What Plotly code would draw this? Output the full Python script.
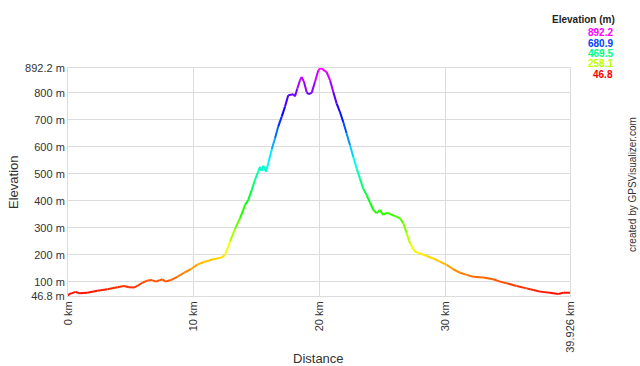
import colorsys
import plotly.graph_objects as go

# ---- data ----
distance_km = [0, 0.04, 0.61, 0.87, 1.53, 2.33, 3.13, 3.92, 4.45, 4.85, 5.25, 5.51, 5.91, 6.31,
               6.70, 6.97, 7.24, 7.50, 7.77, 8.17, 8.69, 9.23, 9.76, 10.28, 10.76, 11.56, 12.22,
               12.49, 12.88, 13.28, 13.68, 14.08, 14.34, 14.61, 14.87, 15.13, 15.27, 15.40, 15.53,
               15.75, 15.93, 16.20, 16.46, 16.72, 17.00, 17.26, 17.52, 17.92, 18.05, 18.24, 18.45,
               18.59, 18.77, 18.98, 19.11, 19.38, 19.64, 19.91, 20.10, 20.57, 20.84, 21.10, 21.37,
               21.63, 21.89, 22.16, 22.43, 22.69, 22.96, 23.22, 23.48, 23.76, 24.02, 24.28, 24.55,
               24.81, 25.07, 25.35, 25.61, 26.01, 26.40, 26.67, 26.94, 27.20, 27.60, 27.99, 28.53,
               29.05, 29.58, 30.12, 30.64, 31.18, 31.71, 32.23, 33.03, 33.82, 34.36, 34.89, 35.68,
               36.48, 37.01, 37.54, 38.33, 38.99, 39.39, 39.926]
elevation_m = [46.8, 53, 62, 57, 59, 66, 72, 79, 84, 79, 78, 84, 96, 104,
               106, 100, 104, 109, 100, 106, 118, 133, 146, 163, 172, 183, 190,
               199, 248, 295, 335, 384, 403, 440, 477, 508, 526, 510, 530,
               508, 539, 590, 631, 675, 712, 749, 791, 795, 787, 816, 847,
               859, 840, 803, 795, 800, 840, 884, 892.2, 877, 847, 803, 760,
               729, 692, 649, 606, 562, 519, 482, 445, 420, 393, 366, 353,
               366, 347, 356, 351, 343, 335, 316, 279, 242, 211, 205, 195,
               186, 174, 162, 146, 133, 125, 118, 115, 109, 100, 94, 84,
               75, 69, 63, 59, 54, 59, 59]
y_tick_values = [46.8, 100, 200, 300, 400, 500, 600, 700, 800, 892.2]
y_tick_labels = ["46.8 m", "100 m", "200 m", "300 m", "400 m", "500 m", "600 m", "700 m", "800 m", "892.2 m"]
x_tick_values = [0, 10, 20, 30, 39.926]
x_tick_labels = ["0 km", "10 km", "20 km", "30 km", "39.926 km"]
legend_values = [892.2, 680.9, 469.5, 258.1, 46.8]

E_MIN, E_MAX = 46.8, 892.2
FONT = "Liberation Sans, Arial, sans-serif"


def elev_color(e):
    f = max(0.0, min(1.0, (e - E_MIN) / (E_MAX - E_MIN)))
    r, g, b = colorsys.hsv_to_rgb(300.0 / 360.0 * f, 1.0, 1.0)
    return "rgb(%d,%d,%d)" % (round(r * 255), round(g * 255), round(b * 255))


fig = go.Figure()
for i in range(len(distance_km) - 1):
    seg_x = distance_km[i:i + 2]
    seg_y = elevation_m[i:i + 2]
    fig.add_trace(go.Scatter(
        x=seg_x, y=seg_y, mode="lines",
        line=dict(color=elev_color(sum(seg_y) / 2), width=2),
        showlegend=False, hoverinfo="skip"))

grid = "#dcdcdc"
fig.update_layout(
    width=640, height=366,
    margin=dict(l=68, r=70, t=68, b=70),
    paper_bgcolor="white", plot_bgcolor="white",
    font=dict(family=FONT, size=11, color="#333333"),
    xaxis=dict(range=[0, 39.926], tickvals=x_tick_values, ticktext=x_tick_labels,
               tickangle=-90, showgrid=True, gridcolor=grid, gridwidth=1,
               showline=True, linecolor=grid, mirror=True, zeroline=False,
               ticks="", tickfont=dict(size=11, color="#333333")),
    yaxis=dict(range=[46.8, 892.2], tickvals=y_tick_values, ticktext=y_tick_labels,
               showgrid=True, gridcolor=grid, gridwidth=1,
               showline=True, linecolor=grid, mirror=True, zeroline=False,
               ticks="", tickfont=dict(size=11, color="#333333")),
)

ann = []
ann.append(dict(text="Elevation", x=13, y=183, textangle=-90))
ann.append(dict(text="Distance", x=318, y=358))
for a in ann:
    a.update(xref="paper", yref="paper", showarrow=False,
             font=dict(family=FONT, size=13, color="#333333"))
    a["x"] = (a["x"] - 68) / 502.0
    a["y"] = (296 - a["y"]) / 228.0
    a["xanchor"] = "center"
    a["yanchor"] = "middle"

ann.append(dict(text="created by GPSVisualizer.com", x=(632 - 68) / 502.0, y=(296 - 185) / 228.0,
                xref="paper", yref="paper", showarrow=False, textangle=-90,
                xanchor="center", yanchor="middle",
                font=dict(family=FONT, size=10, color="#333333")))
ann.append(dict(text="<b>Elevation (m)</b>", x=(617 - 68) / 502.0, y=(296 - 19) / 228.0,
                xref="paper", yref="paper", showarrow=False,
                xanchor="right", yanchor="middle",
                font=dict(family=FONT, size=10, color="#222222")))
leg_y = [32.3, 43, 53.3, 63.5, 74]
for v, yy in zip(legend_values, leg_y):
    ann.append(dict(text="<b>%s</b>" % v, x=(615 - 68) / 502.0, y=(296 - yy) / 228.0,
                    xref="paper", yref="paper", showarrow=False,
                    xanchor="right", yanchor="middle",
                    font=dict(family=FONT, size=10, color=elev_color(v))))
fig.update_layout(annotations=ann)

fig.write_html("out.html")
